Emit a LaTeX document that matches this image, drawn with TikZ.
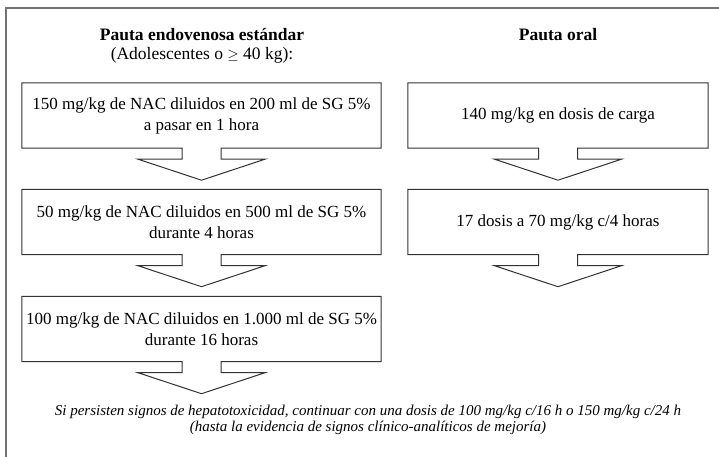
\documentclass[tikz,border=0pt]{standalone}
\usepackage{fontspec}
\setmainfont{Liberation Serif}
\usetikzlibrary{calc}
\definecolor{framegray}{gray}{0.45}
\definecolor{linegray}{gray}{0.2}
\tikzset{
  stepbox/.style={minimum width=359pt, minimum height=65pt, inner sep=0pt, align=center,
    font=\fontsize{17}{21}\selectfont, text=black},
  oralbox/.style={stepbox, minimum width=300pt},
  heading/.style={anchor=base, font=\fontsize{17.5}{21}\selectfont\bfseries},
  subheading/.style={anchor=base, font=\fontsize{17.5}{21}\selectfont},
  outline/.style={draw=linegray, line width=1pt, line join=miter},
  note/.style={align=center, font=\fontsize{15}{16.5}\selectfont\itshape, inner sep=0pt}
}
\newcommand\arrowoutline[1]{%
  \draw[outline] (#1.south west) -- (#1.north west) -- (#1.north east) -- (#1.south east)
    -- ($(#1.south)+(19.5,0)$) -- ($(#1.south)+(19.5,11)$) -- ($(#1.south)+(63.5,11)$)
    -- ($(#1.south)+(0,32)$) -- ($(#1.south)+(-63.5,11)$) -- ($(#1.south)+(-19.5,11)$)
    -- ($(#1.south)+(-19.5,0)$) -- cycle;}
\begin{document}
\begin{tikzpicture}[x=1pt,y=-1pt]
\useasboundingbox (0,0) rectangle (719,457);
\fill[white] (0,0) rectangle (719,457);
\coordinate (fbl) at (6,457);
\coordinate (ftl) at (6,8);
\coordinate (ftr) at (719,8);
\draw[framegray, line width=1.6pt] (fbl) -- (ftl) -- (ftr);

\node[heading] (h1) at (202,41) {Pauta endovenosa estándar};
\node[subheading] (h1b) at (202,60) {(Adolescentes o \raisebox{0.1ex}{\scalebox{0.85}{$\geq$}} 40 kg):};
\node[heading] (h2) at (558,41) {Pauta oral};

\node[stepbox] (a1) at (201.5,115.5) {150 mg/kg de NAC diluidos en 200 ml de SG 5\%\\a pasar en 1 hora};
\node[stepbox] (a2) at (201.5,222) {50 mg/kg de NAC diluidos en 500 ml de SG 5\%\\durante 4 horas};
\node[stepbox] (a3) at (201.5,329) {100 mg/kg de NAC diluidos en 1.000 ml de SG 5\%\\durante 16 horas};
\node[oralbox] (o1) at (558,115.5) {140 mg/kg en dosis de carga};
\node[oralbox] (o2) at (558,222) {17 dosis a 70 mg/kg c/4 horas};

\arrowoutline{a1}
\arrowoutline{a2}
\arrowoutline{a3}
\arrowoutline{o1}
\arrowoutline{o2}

\node[note] (n) at (368,420) {Si persisten signos de hepatotoxicidad, continuar con una dosis de 100 mg/kg c/16 h o 150 mg/kg c/24 h\\(hasta la evidencia de signos clínico-analíticos de mejoría)};
\end{tikzpicture}
\end{document}
